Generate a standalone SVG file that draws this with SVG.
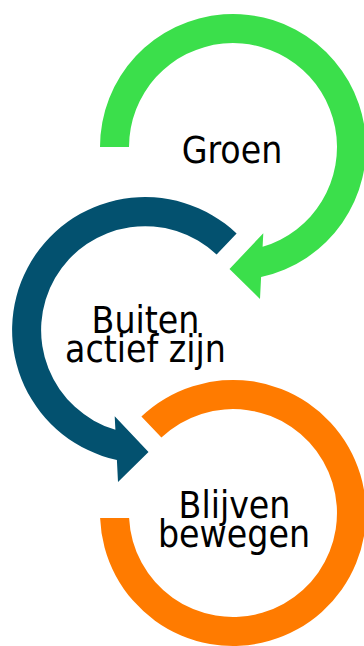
<svg xmlns="http://www.w3.org/2000/svg" width="364" height="646" viewBox="0 0 364 646">
  <style>
    .lbl { font-family: "DejaVu Sans Condensed", "DejaVu Sans", sans-serif; font-size: 37px; fill: #000; text-anchor: middle; }
    .green { fill: #3BDF4B; }
    .blue { fill: #03516F; }
    .orange { fill: #FF7B00; }
  </style>
  <rect width="364" height="646" fill="#fff"/>
  <g id="node-groen">
    <path class="green" d="M100,147 A133,133 0 1 1 261.1,277 L260,299 L229.5,269 L263.3,233.3 L262.6,246.8 A104,104 0 1 0 129,147 Z"/>
    <text class="lbl" x="232" y="163">Groen</text>
  </g>
  <g id="node-buiten">
    <path class="blue" d="M236.6,233.5 A133,133 0 1 0 116.9,460 L118,482 L148.5,452 L114.7,416.3 L115.4,429.8 A104,104 0 1 1 216.6,254.6 Z"/>
    <text class="lbl" x="145.5" y="333">Buiten</text>
    <text class="lbl" x="145.5" y="362">actief zijn</text>
  </g>
  <g id="node-blijven">
    <path class="orange" d="M141.4,416.5 A133,133 0 1 1 100.1,518 L129.1,518 A104,104 0 1 0 161.4,437.6 Z"/>
    <text class="lbl" x="234.5" y="518">Blijven</text>
    <text class="lbl" x="234" y="547">bewegen</text>
  </g>
</svg>
